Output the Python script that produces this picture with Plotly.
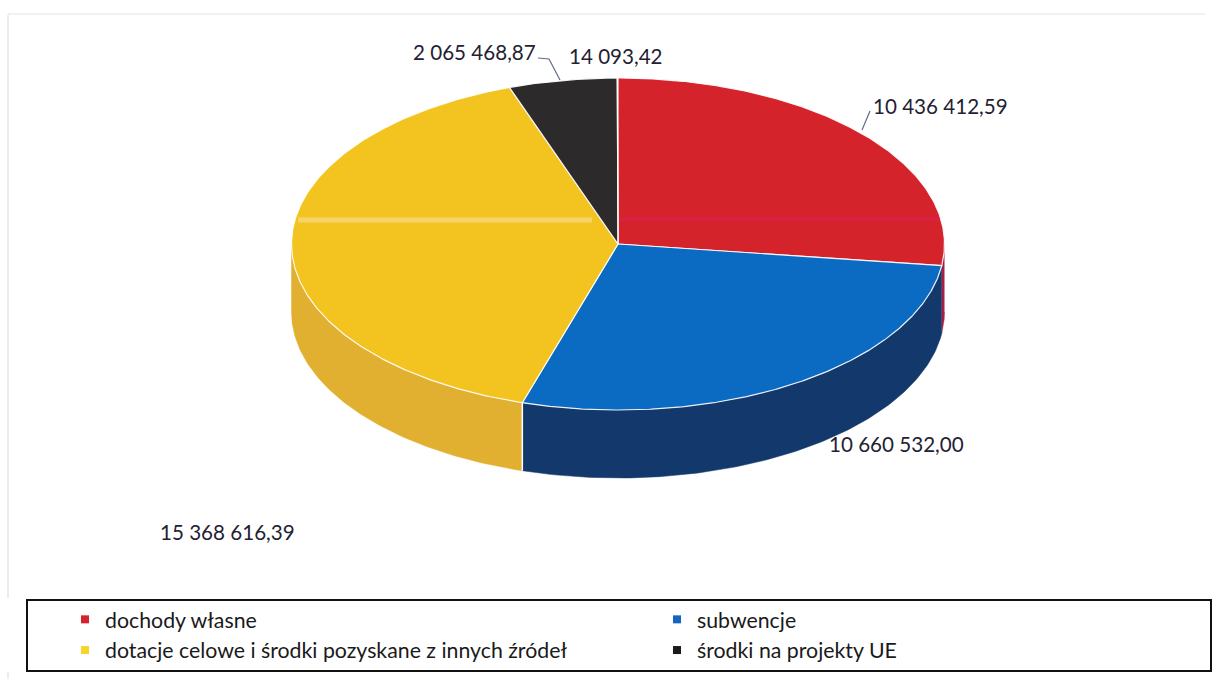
import numpy as np
import plotly.graph_objects as go

categories = ["dochody własne", "subwencje", "dotacje celowe i środki pozyskane z innych źródeł",
              "środki na projekty UE", "pozostałe"]
values = [10436412.59, 10660532.00, 15368616.39, 2065468.87, 14093.42]
value_labels = ["10 436 412,59", "10 660 532,00", "15 368 616,39", "2 065 468,87", "14 093,42"]
top_colors = ["#d5232b", "#0b6bc2", "#f3c41f", "#2c2a2b", "#1a1a1a"]
side_colors = ["#a81f45", "#12386c", "#e2b031", "#222222", "#111111"]
legend_colors = ["#d5232b", "#1565c0", "#f6d42a", "#1a1a1a"]
legend_groups = ["legend", "legend2", "legend", "legend2"]
label_x = [940, 896, 227, 474, 616]
label_y = [106, 444, 532, 52, 56]

CX, CY, RX, RY, DEPTH = 618.0, 244.0, 326.5, 166.0, 68.0
W, H = 1219, 679


def ell(a):
    return CX + RX * np.sin(a), CY - RY * np.cos(a)


fig = go.Figure()
fracs = np.array(values) / np.sum(values)
edges = np.concatenate([[0], np.cumsum(fracs)]) * 2 * np.pi

# side walls (front half only)
for i in range(len(values)):
    a0, a1 = max(edges[i], np.pi / 2), min(edges[i + 1], 3 * np.pi / 2)
    if a1 <= a0:
        continue
    a = np.linspace(a0, a1, 120)
    x, y = ell(a)
    px = np.concatenate([x, x[::-1]])
    py = np.concatenate([y, y[::-1] + DEPTH])
    fig.add_trace(go.Scatter(x=px, y=py, mode="lines", fill="toself", fillcolor=side_colors[i],
                             line=dict(color=side_colors[i], width=0.5), showlegend=False, hoverinfo="skip"))
    if i == 2:
        fig.add_trace(go.Scatter(x=[x[0], x[0]], y=[y[0], y[0] + DEPTH], mode="lines",
                                 line=dict(color="white", width=1.5), showlegend=False, hoverinfo="skip"))

# top faces
for i in range(len(values)):
    a = np.linspace(edges[i], edges[i + 1], 240)
    x, y = ell(a)
    fig.add_trace(go.Scatter(x=np.concatenate([[CX], x, [CX]]), y=np.concatenate([[CY], y, [CY]]),
                             mode="lines", fill="toself", fillcolor=top_colors[i],
                             line=dict(color="rgba(255,255,255,0.9)", width=1.2),
                             showlegend=False, hovertemplate=categories[i] + "<extra></extra>"))

# legend entries
for i in range(4):
    fig.add_trace(go.Scatter(x=[None], y=[None], mode="markers", name=categories[i], legend=legend_groups[i],
                             marker=dict(symbol="square", size=8, color=legend_colors[i])))

annots = [dict(x=lx, y=ly, text=t, showarrow=False, xref="x", yref="y",
               font=dict(family="Lato, Carlito, sans-serif", size=20.6, color="#1f2233"))
          for lx, ly, t in zip(label_x, label_y, value_labels)]

R = dict(xref="x", yref="y")
shapes = [
    dict(type="line", x0=8, x1=8, y0=15, y1=598, line=dict(color="#e6e6e6", width=1.5), **R),
    dict(type="line", x0=8, x1=1205, y0=14, y1=14, line=dict(color="#ececec", width=1.5), **R),
    dict(type="line", x0=8, x1=8, y0=672, y1=679, line=dict(color="#e6e6e6", width=1.5), **R),
    dict(type="rect", x0=27, x1=1211, y0=600, y1=671, line=dict(color="#111111", width=2), **R),
    dict(type="line", x0=298, x1=592, y0=220, y1=220, line=dict(color="rgba(250,225,170,0.55)", width=5), **R),
    dict(type="line", x0=620, x1=940, y0=219, y1=219, line=dict(color="rgba(225,30,100,0.45)", width=4), **R),
    dict(type="path", path="M 862 130 L 870 111", line=dict(color="#5f6b85", width=1.2), **R),
    dict(type="path", path="M 538 58 L 549 59 L 560 80", line=dict(color="#5f6b85", width=1.2), **R),
]

legend_font = dict(family="Lato, Carlito, sans-serif", size=21.3, color="#1a1a1a")
fig.update_layout(
    width=W, height=H, autosize=False,
    margin=dict(l=0, r=0, t=0, b=0),
    paper_bgcolor="white", plot_bgcolor="white",
    xaxis=dict(range=[0, W], visible=False, fixedrange=True),
    yaxis=dict(range=[H, 0], visible=False, fixedrange=True),
    annotations=annots, shapes=shapes,
    legend=dict(x=65 / W, y=1 - 599 / H, xanchor="left", yanchor="top",
                bgcolor="rgba(0,0,0,0)", font=legend_font),
    legend2=dict(x=657 / W, y=1 - 599 / H, xanchor="left", yanchor="top",
                 bgcolor="rgba(0,0,0,0)", font=legend_font),
)
fig.write_html("out.html", config=dict(displayModeBar=False),
               post_script="document.body.style.margin='0';document.documentElement.style.overflow='hidden';")
